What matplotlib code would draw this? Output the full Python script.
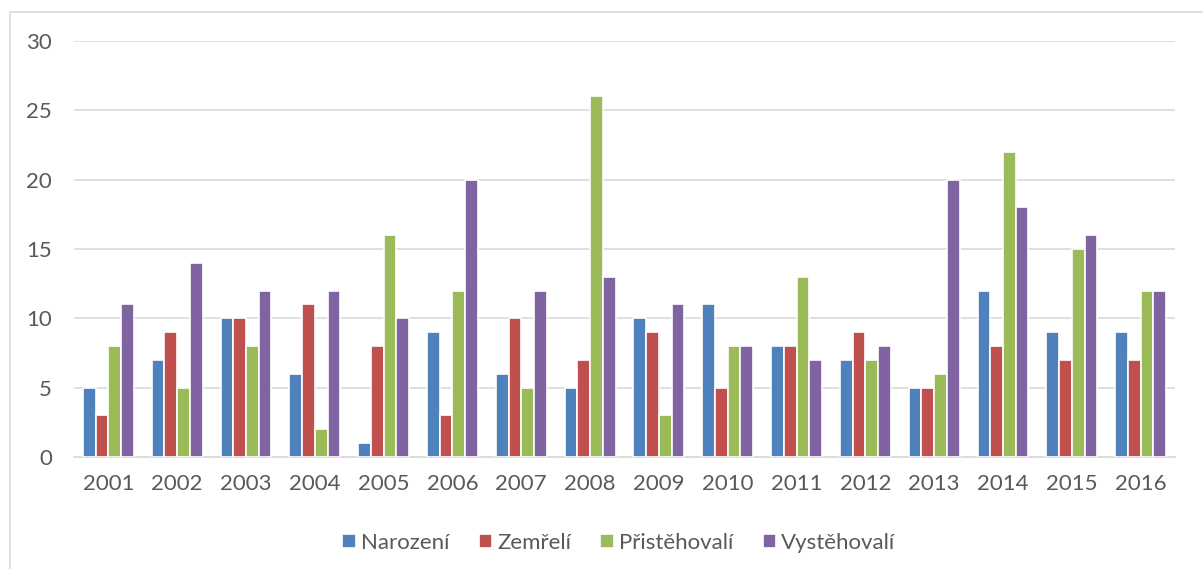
import matplotlib
matplotlib.use("Agg")
import matplotlib.pyplot as plt
import numpy as np
from matplotlib.patches import Rectangle

years = ["2001", "2002", "2003", "2004", "2005", "2006", "2007", "2008",
         "2009", "2010", "2011", "2012", "2013", "2014", "2015", "2016"]
narozeni = [5, 7, 10, 6, 1, 9, 6, 5, 10, 11, 8, 7, 5, 12, 9, 9]
zemreli = [3, 9, 10, 11, 8, 3, 10, 7, 9, 5, 8, 9, 5, 8, 7, 7]
pristehovali = [8, 5, 8, 2, 16, 12, 5, 26, 3, 8, 13, 7, 6, 22, 15, 12]
vystehovali = [11, 14, 12, 12, 10, 20, 12, 13, 11, 8, 7, 8, 20, 18, 16, 12]

labels = ["Narození", "Zemřelí", "Přistěhovalí", "Vystěhovalí"]
colors = ["#4F81BD", "#C0504D", "#9BBB59", "#8064A2"]
series = [narozeni, zemreli, pristehovali, vystehovali]

plt.rcParams['font.family'] = ['Lato', 'DejaVu Sans']

fig = plt.figure(figsize=(12.03, 5.69), dpi=100)
# chart border (only left/top visible in the crop)
fig.patches.append(Rectangle((10 / 1203, -0.1), 1.2, 1 - 12 / 569 + 0.1,
                             transform=fig.transFigure, fill=False,
                             edgecolor="#D9D9D9", linewidth=1.2))

ax = fig.add_axes([74 / 1203, 1 - 457 / 569, (1175 - 74) / 1203, (457 - 41) / 569])

x = np.arange(len(years))
step = 0.185
for i, (vals, lab, col) in enumerate(zip(series, labels, colors)):
    ax.bar(x + (i - 1.5) * step, vals, width=step, color=col, label=lab,
           edgecolor="white", linewidth=1.2, zorder=3)

ax.set_xlim(-0.5, len(years) - 0.5)
ax.set_ylim(0, 30)
ax.set_yticks(range(0, 31, 5))
ax.set_xticks(x)
ax.set_xticklabels(years)
ax.yaxis.grid(True, color="#D9D9D9", linewidth=1.2, zorder=0)
ax.tick_params(axis="both", length=0, labelsize=16, labelcolor="#595959")
ax.tick_params(axis="y", pad=16)
ax.tick_params(axis="x", pad=12)
for s in ["top", "right", "left"]:
    ax.spines[s].set_visible(False)
ax.spines["bottom"].set_color("#D9D9D9")
ax.spines["bottom"].set_linewidth(1.2)

leg = fig.legend(loc="center", bbox_to_anchor=(619 / 1203, 1 - 543 / 569), ncol=4,
                 frameon=False, fontsize=16, handlelength=0.6, handleheight=0.6,
                 handletextpad=0.25, columnspacing=1.3)
for t in leg.get_texts():
    t.set_color("#595959")

fig.savefig("out.png", dpi=100)
